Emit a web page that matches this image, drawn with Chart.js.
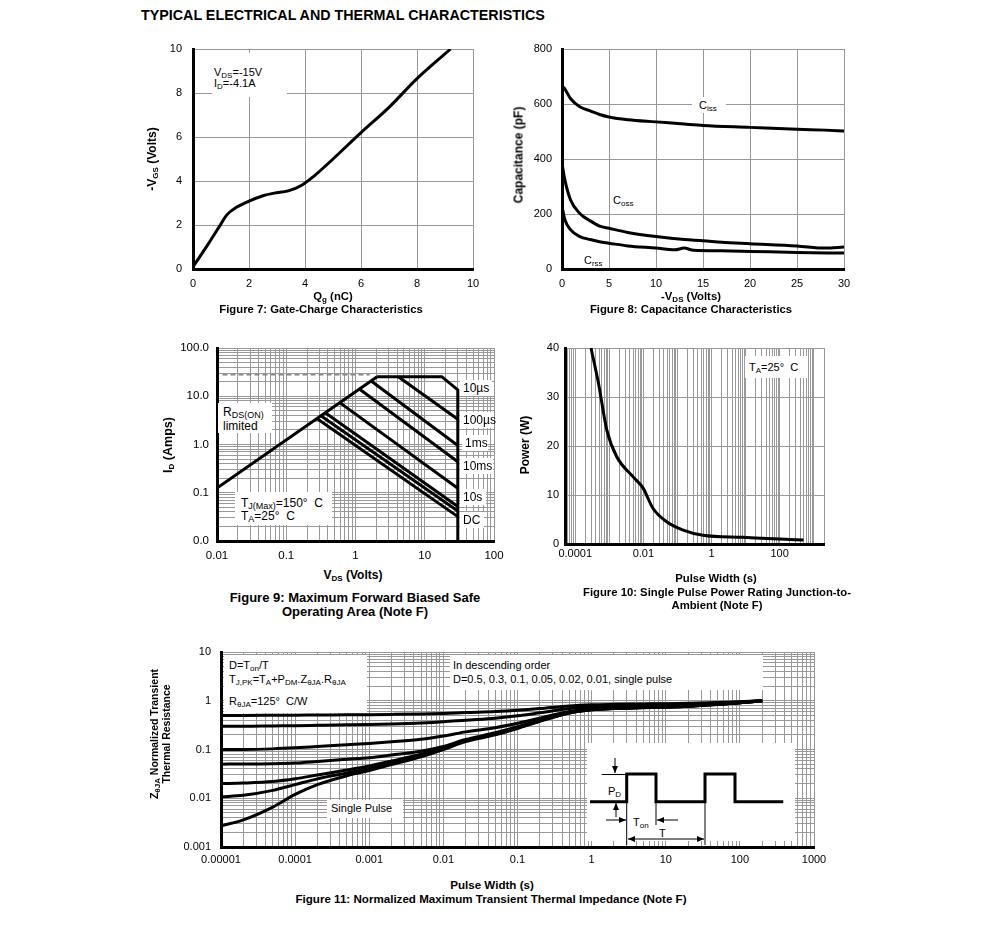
<!DOCTYPE html>
<html>
<head>
<meta charset="utf-8">
<script src="https://cdn.jsdelivr.net/npm/chart.js@4.4.0/dist/chart.umd.min.js"></script>
<style>
body{margin:0;background:#fff;width:991px;height:937px;position:relative;overflow:hidden;font-family:"Liberation Sans",Arial,sans-serif;color:#000}
canvas{position:absolute}
.h{position:absolute;font-weight:bold;font-size:14.3px;white-space:nowrap;transform:translateY(-50%)}
.t{position:absolute;font-weight:bold;font-size:11.3px;line-height:13px;white-space:nowrap;transform:translate(-50%,-50%)}
.t.r{transform:translate(-50%,-50%) rotate(-90deg);font-size:12px}
.t.big{font-size:13px}
.t.mid{font-size:12px}
.b{position:absolute;background:#fff}
.n{position:absolute;font-size:11px;line-height:13px;white-space:nowrap;transform:translateY(-50%)}
.m{font-size:12px;line-height:14px}
sub{font-size:8px;vertical-align:-2px;line-height:0}
.m sub{font-size:9px}
svg{position:absolute;overflow:visible}
</style>
</head>
<body>
<div class="h" style="left:141px;top:15px">TYPICAL ELECTRICAL AND THERMAL CHARACTERISTICS</div>

<canvas id="fig7"></canvas>
<canvas id="fig8"></canvas>
<canvas id="fig9"></canvas>
<canvas id="fig10"></canvas>
<canvas id="fig11"></canvas>

<!-- figure 7 -->
<div class="b" style="left:212px;top:53px;width:75px;height:44px"></div>
<div class="n" style="left:214px;top:72px">V<sub>DS</sub>=-15V</div>
<div class="n" style="left:214px;top:83px">I<sub>D</sub>=-4.1A</div>
<div class="t r" style="left:152px;top:159px">-V<sub>GS</sub> (Volts)</div>
<div class="t" style="left:333px;top:296px">Q<sub>g</sub> (nC)</div>
<div class="t" style="left:321px;top:309px">Figure 7: Gate-Charge Characteristics</div>

<!-- figure 8 -->
<div class="b" style="left:692px;top:97px;width:34px;height:16px"></div>
<div class="n" style="left:699px;top:105px">C<sub>iss</sub></div>
<div class="b" style="left:610px;top:192px;width:30px;height:16px"></div>
<div class="n" style="left:613px;top:200px">C<sub>oss</sub></div>
<div class="b" style="left:580px;top:252px;width:28px;height:16px"></div>
<div class="n" style="left:584px;top:260px">C<sub>rss</sub></div>
<div class="t r" style="left:519px;top:155px">Capacitance (pF)</div>
<div class="t" style="left:691px;top:296px">-V<sub>DS</sub> (Volts)</div>
<div class="t" style="left:691px;top:309px">Figure 8: Capacitance Characteristics</div>

<!-- figure 9 -->
<div class="b" style="left:218px;top:403px;width:54px;height:30px"></div>
<div class="n m" style="left:223px;top:412px">R<sub>DS(ON)</sub></div>
<div class="n m" style="left:223px;top:426px">limited</div>
<div class="b" style="left:235px;top:492px;width:97px;height:33px"></div>
<div class="n m" style="left:241px;top:503px">T<sub>J(Max)</sub>=150°&nbsp; C</div>
<div class="n m" style="left:241px;top:516px">T<sub>A</sub>=25°&nbsp; C</div>
<div class="b" style="left:460px;top:380px;width:32px;height:16px"></div>
<div class="n m" style="left:463px;top:388px">10µs</div>
<div class="b" style="left:460px;top:412px;width:34px;height:16px"></div>
<div class="n m" style="left:463px;top:420px">100µs</div>
<div class="b" style="left:462px;top:435px;width:26px;height:16px"></div>
<div class="n m" style="left:465px;top:443px">1ms</div>
<div class="b" style="left:460px;top:458px;width:33px;height:16px"></div>
<div class="n m" style="left:463px;top:466px">10ms</div>
<div class="b" style="left:460px;top:489px;width:26px;height:16px"></div>
<div class="n m" style="left:463px;top:497px">10s</div>
<div class="b" style="left:460px;top:512px;width:24px;height:16px"></div>
<div class="n m" style="left:463px;top:520px">DC</div>
<div class="t r" style="left:168px;top:445px;font-size:12.5px">I<sub>D</sub> (Amps)</div>
<div class="t mid" style="left:353px;top:575px">V<sub>DS</sub> (Volts)</div>
<div class="t big" style="left:355px;top:597px">Figure 9: Maximum Forward Biased Safe</div>
<div class="t big" style="left:355px;top:611px">Operating Area (Note F)</div>

<!-- figure 10 -->
<div class="b" style="left:745px;top:356px;width:62px;height:22px"></div>
<div class="n" style="left:749px;top:367px">T<sub>A</sub>=25°&nbsp; C</div>
<div class="t r" style="left:525px;top:445px">Power (W)</div>
<div class="t" style="left:716px;top:578px">Pulse Width (s)</div>
<div class="t" style="left:717px;top:592px">Figure 10: Single Pulse Power Rating Junction-to-</div>
<div class="t" style="left:717px;top:605px">Ambient (Note F)</div>

<!-- figure 11 -->
<div class="b" style="left:224px;top:655px;width:143px;height:58px"></div>
<div class="n" style="left:229px;top:665px">D=T<sub>on</sub>/T</div>
<div class="n" style="left:229px;top:679px">T<sub>J,PK</sub>=T<sub>A</sub>+P<sub>DM</sub>.Z<sub>θJA</sub>.R<sub>θJA</sub></div>
<div class="n" style="left:229px;top:701px">R<sub>θJA</sub>=125°&nbsp; C/W</div>
<div class="b" style="left:450px;top:655px;width:313px;height:35px"></div>
<div class="n" style="left:453px;top:665px">In descending order</div>
<div class="n" style="left:453px;top:679px">D=0.5, 0.3, 0.1, 0.05, 0.02, 0.01, single pulse</div>
<div class="b" style="left:327px;top:800px;width:76px;height:18px"></div>
<div class="n" style="left:331px;top:808px">Single Pulse</div>
<svg style="left:587px;top:743px" width="210" height="104" viewBox="0 0 210 104">
  <defs>
    <marker id="ah" markerWidth="8" markerHeight="8" refX="7" refY="4" orient="auto" markerUnits="userSpaceOnUse">
      <path d="M0,1 L7,4 L0,7 z" fill="#000"/>
    </marker>
  </defs>
  <rect x="0" y="0" width="208" height="98" fill="#fff"/>
  <polyline points="3,58.7 39.7,58.7 39.7,31 69,31 69,58.7 118,58.7 118,31 148,31 148,58.7 196.3,58.7" fill="none" stroke="#000" stroke-width="3"/>
  <g stroke="#000" stroke-width="1" fill="none">
    <line x1="14.7" y1="31.5" x2="39.7" y2="31.5"/>
    <line x1="28" y1="15" x2="28" y2="30" marker-end="url(#ah)"/>
    <line x1="29" y1="74" x2="29" y2="60" marker-end="url(#ah)"/>
    <line x1="39.7" y1="58.7" x2="39.7" y2="102"/>
    <line x1="69" y1="58.7" x2="69" y2="82"/>
    <line x1="118" y1="58.7" x2="118" y2="102"/>
    <line x1="19" y1="77" x2="39" y2="77" marker-end="url(#ah)"/>
    <line x1="91" y1="77" x2="70" y2="77" marker-end="url(#ah)"/>
    <line x1="60" y1="96" x2="41" y2="96" marker-end="url(#ah)"/>
    <line x1="60" y1="96" x2="117" y2="96" marker-end="url(#ah)"/>
  </g>
  <text x="21" y="52" font-size="11" font-family="Liberation Sans, Arial">P<tspan font-size="8" dy="2">D</tspan></text>
  <text x="46" y="83" font-size="11" font-family="Liberation Sans, Arial">T<tspan font-size="8" dy="2">on</tspan></text>
  <text x="72" y="94" font-size="11" font-family="Liberation Sans, Arial">T</text>
</svg>
<div class="t r" style="left:154px;top:734px;font-size:10.5px">Z<sub>θJA</sub> Normalized Transient</div>
<div class="t r" style="left:166px;top:734px;font-size:10.5px">Thermal Resistance</div>
<div class="t" style="left:492px;top:884px;font-size:11.6px">Pulse Width (s)</div>
<div class="t" style="left:491px;top:898px;font-size:11.6px">Figure 11: Normalized Maximum Transient Thermal Impedance (Note F)</div>

<script>
// ---- Figure 7: gate charge ----
const qg = [0, 0.5, 1.0, 1.2, 1.45, 2.0, 2.5, 2.9, 3.4, 3.9, 4.3, 5.0, 6.0, 7.0, 8.0, 9.2];
const vgs = [0.1, 1.05, 2.05, 2.45, 2.72, 3.08, 3.33, 3.45, 3.55, 3.82, 4.2, 5.0, 6.2, 7.35, 8.65, 10];

// ---- Figure 8: capacitance ----
const vdsCiss = [0, 0.3, 0.9, 1.9, 3, 4, 5, 7, 10, 13, 15, 20, 25, 28, 30];
const ciss = [665, 655, 620, 590, 575, 562, 553, 543, 535, 527, 522, 515, 508, 505, 502];
const vdsCoss = [0, 0.3, 0.9, 1.9, 3, 4, 5, 7, 10, 13, 15, 17, 20, 25, 28, 30];
const coss = [385, 325, 252, 202, 175, 156, 148, 133, 118, 107, 103, 97, 92, 84, 76, 80];
const vdsCrss = [0, 0.3, 0.9, 1.9, 3, 4, 5, 7, 10, 12, 13, 14, 17, 20, 25, 30];
const crss = [228, 180, 143, 118, 107, 99, 94, 84, 76, 70, 76, 68, 66, 64, 60, 58];

// ---- Figure 9: SOA ----
const rdsV = [0.01, 2.05];
const rdsI = [0.125, 25.4];
const limitV = [2.05, 17.6, 30, 30];      // 10us boundary + 30V limit
const limitI = [25.4, 25.4, 13.5, 0.01];
const pulseStartV = [4.15, 1.7, 1.15, 0.6, 0.37, 0.32, 0.28];   // 100us,1ms,10ms,100ms,1s,10s,DC
const pulseStartI = [25.4, 20.5, 14, 7.3, 4.5, 3.9, 3.4];
const pulseEndV = 30;
const pulseEndI = [3.35, 0.95, 0.44, 0.124, 0.052, 0.042, 0.032];
const idmV = [0.012, 1.6];
const idmI = [28, 28];
const soaDecades = [0.01, 0.1, 1, 10, 100];
const soaXLabels = ['0.01', '0.1', '1', '10', '100'];
const soaYLabels = ['0.0', '0.1', '1.0', '10.0', '100.0'];

// ---- Figure 10: single pulse power ----
const tPow = [0.00029, 0.00048, 0.00084, 0.00165, 0.005, 0.0098, 0.019, 0.047, 0.14, 0.56, 8.2, 100, 500];
const power = [40, 32.8, 23.3, 17.8, 13.7, 11.4, 7.3, 4.6, 2.9, 1.8, 1.37, 1.0, 0.8];
const powDecades = [0.0001, 0.01, 1, 100];
const powXLabels = ['0.0001', '0.01', '1', '100'];

// ---- Figure 11: transient thermal impedance ----
const tZ = [1e-5, 2e-5, 5e-5, 1e-4, 2e-4, 5e-4, 1e-3, 2e-3, 5e-3, 1e-2, 2e-2, 5e-2, 0.1, 0.2, 0.5, 1, 2, 5, 10, 20, 50, 100, 200];
const zD05 = [0.5, 0.5, 0.503, 0.506, 0.51, 0.515, 0.519, 0.525, 0.536, 0.55, 0.573, 0.6, 0.635, 0.69, 0.78, 0.825, 0.845, 0.86, 0.87, 0.885, 0.92, 0.955, 1.0];
const zD03 = [0.3, 0.3, 0.305, 0.308, 0.313, 0.32, 0.326, 0.334, 0.35, 0.37, 0.4, 0.44, 0.49, 0.566, 0.69, 0.755, 0.783, 0.804, 0.818, 0.84, 0.89, 0.94, 1.0];
const zD01 = [0.1, 0.1, 0.103, 0.108, 0.115, 0.125, 0.133, 0.144, 0.163, 0.19, 0.23, 0.28, 0.345, 0.44, 0.6, 0.685, 0.72, 0.748, 0.766, 0.79, 0.856, 0.92, 1.0];
const zD005 = [0.05, 0.0505, 0.051, 0.053, 0.057, 0.063, 0.068, 0.077, 0.092, 0.115, 0.16, 0.22, 0.295, 0.405, 0.58, 0.67, 0.71, 0.735, 0.753, 0.78, 0.848, 0.915, 1.0];
const zD002 = [0.02, 0.0205, 0.022, 0.025, 0.03, 0.038, 0.046, 0.058, 0.08, 0.108, 0.153, 0.208, 0.28, 0.39, 0.57, 0.66, 0.7, 0.726, 0.745, 0.775, 0.843, 0.912, 1.0];
const zD001 = [0.0107, 0.0115, 0.0145, 0.019, 0.025, 0.033, 0.041, 0.053, 0.075, 0.104, 0.15, 0.205, 0.275, 0.385, 0.563, 0.653, 0.693, 0.723, 0.743, 0.772, 0.842, 0.911, 1.0];
const zSingle = [0.0027, 0.0036, 0.0066, 0.012, 0.019, 0.029, 0.037, 0.049, 0.071, 0.1, 0.145, 0.2, 0.27, 0.38, 0.56, 0.65, 0.69, 0.72, 0.74, 0.77, 0.84, 0.91, 1.0];
const zXDecades = [1e-5, 1e-4, 1e-3, 1e-2, 0.1, 1, 10, 100, 1000];
const zXLabels = ['0.00001', '0.0001', '0.001', '0.01', '0.1', '1', '10', '100', '1000'];
const zYDecades = [0.001, 0.01, 0.1, 1, 10];
const zYLabels = ['0.001', '0.01', '0.1', '1', '10'];

Chart.defaults.font.family = '"Liberation Sans", Arial, sans-serif';
Chart.defaults.font.size = 11;
Chart.defaults.color = '#000';

// room round the plot area; top must exceed half a label + tick padding
const PADL = 50, PADT = 26, PADR = 36, PADB = 26;

// 1..9 x 10^n grid positions for log axes
function logGrid(min, max) {
  const out = [];
  for (let e = -6; e <= 4; e++) {
    for (let k = 1; k < 10; k++) {
      const v = Number((k * Math.pow(10, e)).toPrecision(6));
      if (v >= min * 0.9999 && v <= max * 1.0001) out.push(v);
    }
  }
  return out;
}
function pts(xs, ys) { return xs.map((x, i) => ({x: x, y: ys[i]})); }
function labeller(at, labels) {
  return v => {
    const i = at.findIndex(d => Math.abs(d - v) <= d * 1e-6);
    return i < 0 ? '' : labels[i];
  };
}
function axis(o) {
  const a = {
    type: o.type || 'linear', min: o.min, max: o.max,
    grid: {color: '#999', lineWidth: 1, drawTicks: false},
    border: {color: '#000', width: 3},
    ticks: {padding: o.pad, autoSkip: false, maxRotation: 0, color: '#000', font: {size: o.size || 11}}
  };
  if (o.step) a.ticks.stepSize = o.step;
  if (o.type == 'logarithmic') {
    const g = logGrid(o.min, o.max);
    a.afterBuildTicks = s => { s.ticks = g.map(v => ({value: v})); };
    a.ticks.callback = labeller(o.at, o.labels);
  }
  return a;
}
function line(xs, ys, extra) {
  return Object.assign({data: pts(xs, ys), borderColor: '#000', borderWidth: 3, fill: false,
    tension: 0, pointRadius: 0}, extra || {});
}
const smooth = {cubicInterpolationMode: 'monotone'};

function draw(id, l, t, w, h, xa, ya, datasets) {
  const cv = document.getElementById(id);
  cv.width = w + PADL + PADR;
  cv.height = h + PADT + PADB;
  cv.style.left = (l - PADL) + 'px';
  cv.style.top = (t - PADT) + 'px';
  xa.position = 'bottom';
  xa.afterFit = s => { s.height = PADB; };
  ya.position = 'left';
  ya.afterFit = s => { s.width = PADL; };
  return new Chart(cv, {
    type: 'line',
    data: {datasets: datasets},
    options: {
      responsive: false, animation: false,
      layout: {padding: {left: 0, top: PADT, right: PADR, bottom: 0}},
      plugins: {legend: {display: false}, tooltip: {enabled: false}},
      elements: {point: {radius: 0}},
      scales: {x: xa, y: ya}
    }
  });
}

draw('fig7', 193, 49, 280, 220,
  axis({min: 0, max: 10, step: 2, pad: 8}),
  axis({min: 0, max: 10, step: 2, pad: 11}),
  [line(qg, vgs, smooth)]);

draw('fig8', 562, 49, 282, 220,
  axis({min: 0, max: 30, step: 5, pad: 8}),
  axis({min: 0, max: 800, step: 200, pad: 10}),
  [line(vdsCiss, ciss, smooth), line(vdsCoss, coss, smooth), line(vdsCrss, crss, smooth)]);

const soaSets = [
  line(idmV, idmI, {borderColor: '#888', borderWidth: 1.5, borderDash: [5, 3]}),
  line(rdsV, rdsI),
  line(limitV, limitI)
];
pulseStartV.forEach((v, i) => {
  soaSets.push(line([v, pulseEndV], [pulseStartI[i], pulseEndI[i]]));
});
draw('fig9', 217, 348, 277, 193,
  axis({type: 'logarithmic', min: 0.01, max: 100, pad: 8, size: 11.5, at: soaDecades, labels: soaXLabels}),
  axis({type: 'logarithmic', min: 0.01, max: 100, pad: 8, size: 11.5, at: soaDecades, labels: soaYLabels}),
  soaSets);

draw('fig10', 565, 348, 259, 196,
  axis({type: 'logarithmic', min: 0.00005, max: 2000, pad: 3, at: powDecades, labels: powXLabels}),
  axis({min: 0, max: 40, step: 10, pad: 6}),
  [line(tPow, power, smooth)]);

draw('fig11', 221, 652, 593, 195,
  axis({type: 'logarithmic', min: 1e-5, max: 1000, pad: 6, at: zXDecades, labels: zXLabels}),
  axis({type: 'logarithmic', min: 0.001, max: 10, pad: 10, at: zYDecades, labels: zYLabels}),
  [zD05, zD03, zD01, zD005, zD002, zD001, zSingle].map(z => line(tZ, z, smooth)));
</script>
</body>
</html>
